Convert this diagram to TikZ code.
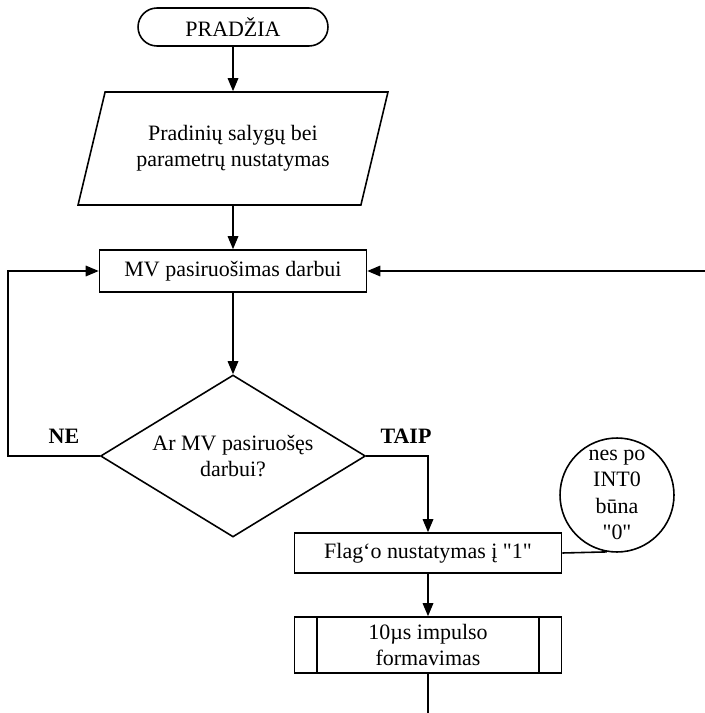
\documentclass[tikz,border=0pt]{standalone}
\usepackage{fontspec}
\setmainfont{Liberation Serif}
\usetikzlibrary{arrows.meta,shapes.geometric,calc}
\tikzset{
  linija/.style={line width=0.9pt},
  rodykle/.style={linija,-{Triangle[length=2.6mm,width=2.1mm]}},
  pradzia/.style={draw,linija,rounded corners=3.8mm,minimum width=3.8cm,minimum height=0.76cm},
  ivestis/.style={draw,linija,trapezium,trapezium left angle=65,trapezium right angle=115,
    trapezium stretches body,minimum width=6.2cm,minimum height=2.26cm,align=center},
  blokas/.style={draw,linija,minimum width=5.34cm,align=center,inner sep=1pt},
  salyga/.style={draw,linija,diamond,aspect=1.64,minimum width=5.3cm,minimum height=3.24cm,align=center,inner sep=0pt},
  pastaba/.style={draw,linija,circle,minimum size=2.28cm,inner sep=0pt,align=center},
  ats/.style={font=\fontsize{12.5pt}{15pt}\bfseries}
}
\newcommand\kab{\textquotedbl}
\begin{document}
\begin{tikzpicture}[x=0.02cm,y=-0.02cm,font=\fontsize{12.5pt}{15pt}\selectfont]
\useasboundingbox (0,0) rectangle (705,713);
% blokai
\node[pradzia] (start) at (233,27) {PRADŽIA};
\node[ivestis] (init) at (233,148.5) {Pradinių salygų bei\\parametrų nustatymas};
\node[blokas,minimum height=0.84cm] (prep) at (233,271) {MV pasiruošimas darbui};
\node[salyga] (check) at (233,456) {Ar MV pasiruošęs\\darbui?};
\node[blokas,minimum height=0.8cm] (flag) at (428,553) {Flag‘o nustatymas į \kab1\kab};
\node[pastaba] (note) at (617,495) {nes po\\INT0\\būna\\\kab0\kab};
\node[blokas,minimum height=1.12cm] (pulse) at (428,645) {10µs impulso\\formavimas};
\draw[linija] ($(pulse.north west)+(23,0)$) -- ($(pulse.south west)+(23,0)$);
\draw[linija] ($(pulse.north east)+(-23,0)$) -- ($(pulse.south east)+(-23,0)$);
\node[ats] (ne) at (64,436) {NE};
\node[ats] (taip) at (406,436) {TAIP};
\coordinate (loop) at (8,456);
\coordinate (in) at (705,271);
\coordinate (out) at (428,713);
% jungtys
\draw[rodykle] (start) -- (init);
\draw[rodykle] (init) -- (prep);
\draw[rodykle] (prep) -- (check);
\draw[rodykle] (check.west) -- (loop) |- (prep.west);
\draw[rodykle] (in) -- (prep.east);
\draw[rodykle] (check.east) -| (flag.north);
\draw[linija] (flag.east) -- (note.-100);
\draw[rodykle] (flag) -- (pulse);
\draw[linija] (pulse) -- (out);
\end{tikzpicture}
\end{document}
